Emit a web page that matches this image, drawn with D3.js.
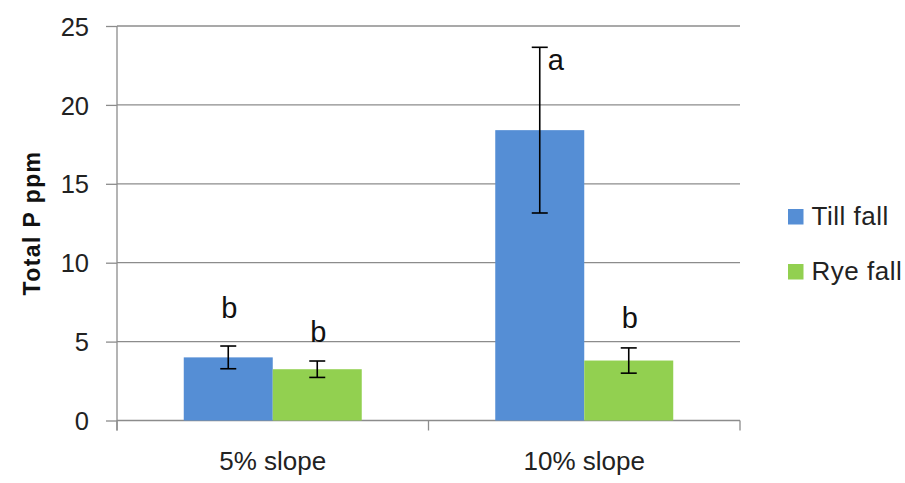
<!DOCTYPE html>
<html><head><meta charset="utf-8">
<script src="https://cdn.jsdelivr.net/npm/d3@7"></script>
<style>body{margin:0;background:#fff}svg{display:block}</style>
</head><body>
<script>
const categories = ["5% slope", "10% slope"];
const seriesNames = ["Till fall", "Rye fall"];
const tillValues = [4.0, 18.4];
const ryeValues = [3.25, 3.8];
const tillErrors = [0.72, 5.25];
const ryeErrors = [0.52, 0.8];
const tillLetters = ["b", "a"];
const ryeLetters = ["b", "b"];
const tillLetterAt = [6.5, 22.2];
const ryeLetterAt = [5.0, 5.88];
const yTicks = [0, 5, 10, 15, 20, 25];
const colors = ["#558ED5", "#92D050"];

const W = 905, H = 483;
const m = {left: 117, right: 165, top: 26, bottom: 62.5};
const svg = d3.select("body").append("svg").attr("width", W).attr("height", H);
const font = "'Liberation Sans', Arial, sans-serif";

const y = d3.scaleLinear().domain([0, 25]).range([H - m.bottom, m.top]);
const x0 = d3.scaleBand().domain(categories).range([m.left, W - m.right]).padding(0);
const x1 = d3.scaleBand().domain(seriesNames)
  .range([x0.bandwidth() * 0.2143, x0.bandwidth() * 0.7857]).padding(0);

// gridlines
svg.append("g").selectAll("line").data(yTicks.filter(d => d > 0)).join("line")
  .attr("x1", m.left).attr("x2", W - m.right)
  .attr("y1", d => y(d)).attr("y2", d => y(d))
  .attr("stroke", "#8c8c8c").attr("stroke-width", 1.3);

// y axis
const yAxis = svg.append("g").attr("transform", `translate(${m.left},0)`)
  .call(d3.axisLeft(y).tickValues(yTicks).tickSize(11).tickPadding(17));
yAxis.select(".domain").remove();
yAxis.append("line").attr("x1", 0).attr("x2", 0).attr("y1", m.top).attr("y2", y(0) + 10)
  .attr("stroke", "#8c8c8c").attr("stroke-width", 1.3);
yAxis.selectAll(".tick line").attr("stroke", "#8c8c8c").attr("stroke-width", 1.3);
yAxis.selectAll(".tick text").attr("font-family", font).attr("font-size", 25.5)
  .attr("fill", "#222").attr("dy", "0.36em");

// x axis
const xAxis = svg.append("g").attr("transform", `translate(0,${y(0)})`);
xAxis.append("line").attr("x1", m.left).attr("x2", W - m.right)
  .attr("stroke", "#8c8c8c").attr("stroke-width", 1.3);
const xEdges = [m.left].concat(categories.map(c => x0(c) + x0.bandwidth()));
xAxis.selectAll(".xt").data(xEdges).join("line").attr("class", "xt")
  .attr("x1", d => d).attr("x2", d => d).attr("y1", 0).attr("y2", 10)
  .attr("stroke", "#8c8c8c").attr("stroke-width", 1.3);
xAxis.selectAll("text").data(categories).join("text")
  .attr("x", d => x0(d) + x0.bandwidth() / 2).attr("y", 49)
  .attr("text-anchor", "middle").attr("font-family", font).attr("font-size", 26)
  .attr("fill", "#222").text(d => d);

// bars
const data = categories.map((c, i) => ({
  cat: c,
  items: [
    {s: seriesNames[0], v: tillValues[i], e: tillErrors[i], l: tillLetters[i], la: tillLetterAt[i], c: colors[0]},
    {s: seriesNames[1], v: ryeValues[i], e: ryeErrors[i], l: ryeLetters[i], la: ryeLetterAt[i], c: colors[1]}
  ]
}));
const g = svg.append("g").selectAll("g").data(data).join("g")
  .attr("transform", d => `translate(${x0(d.cat)},0)`);
g.selectAll("rect").data(d => d.items).join("rect")
  .attr("x", d => x1(d.s)).attr("width", x1.bandwidth())
  .attr("y", d => y(d.v)).attr("height", d => y(0) - y(d.v))
  .attr("fill", d => d.c);

// error bars
const eb = g.selectAll("g.eb").data(d => d.items).join("g").attr("class", "eb")
  .attr("stroke", "#000").attr("stroke-width", 1.6);
const cx = d => x1(d.s) + x1.bandwidth() / 2;
eb.append("line").attr("x1", cx).attr("x2", cx)
  .attr("y1", d => y(d.v + d.e)).attr("y2", d => y(d.v - d.e));
eb.append("line").attr("x1", d => cx(d) - 8).attr("x2", d => cx(d) + 8)
  .attr("y1", d => y(d.v + d.e)).attr("y2", d => y(d.v + d.e));
eb.append("line").attr("x1", d => cx(d) - 8).attr("x2", d => cx(d) + 8)
  .attr("y1", d => y(d.v - d.e)).attr("y2", d => y(d.v - d.e));

// letters
g.selectAll("text.lt").data(d => d.items).join("text").attr("class", "lt")
  .attr("x", d => d.v > 10 ? cx(d) + 16 : cx(d) + 1)
  .attr("y", d => y(d.la))
  .attr("text-anchor", "middle").attr("font-family", font).attr("font-size", 29)
  .attr("fill", "#111").text(d => d.l);

// y title
svg.append("text").attr("transform", `translate(40,223) rotate(-90)`)
  .attr("text-anchor", "middle").attr("font-family", font).attr("font-weight", "bold")
  .attr("font-size", 23).attr("letter-spacing", 1.4).attr("fill", "#111").text("Total P ppm");

// legend
const lg = svg.append("g").selectAll("g").data(seriesNames).join("g")
  .attr("transform", (d, i) => `translate(788,${209 + i * 55})`);
lg.append("rect").attr("width", 15.5).attr("height", 15.5).attr("fill", (d, i) => colors[i]);
lg.append("text").attr("x", 23.5).attr("y", 16).attr("font-family", font)
  .attr("font-size", 26).attr("letter-spacing", 0.5).attr("fill", "#222").text(d => d);
</script>
</body></html>
